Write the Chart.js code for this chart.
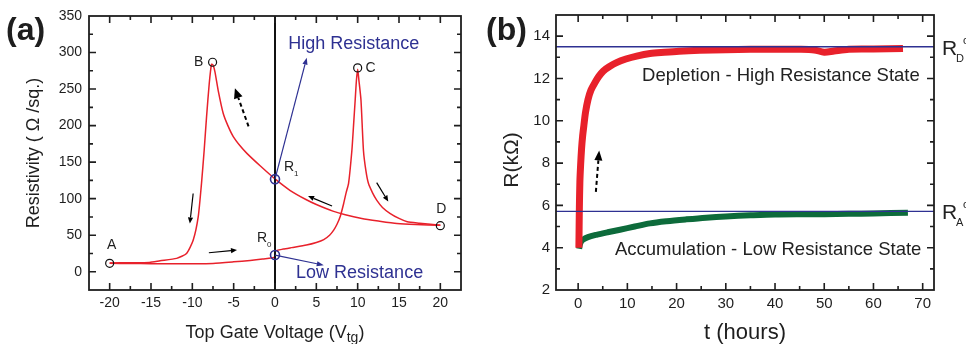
<!DOCTYPE html>
<html>
<head>
<meta charset="utf-8">
<script src="https://cdn.jsdelivr.net/npm/chart.js@4.4.1/dist/chart.umd.min.js"></script>
<style>
  html, body { margin: 0; padding: 0; background: #fff; }
  #wrap { position: relative; width: 966px; height: 344px; }
  canvas { position: absolute; top: 0; }
  #chartA { left: 0; }
  #chartB { left: 480px; }
</style>
</head>
<body>
<div id="wrap">
  <canvas id="chartA" width="480" height="344"></canvas>
  <canvas id="chartB" width="486" height="344"></canvas>
</div>
<script>
// ---------- panel (a): resistivity vs top gate voltage ----------
// forward sweep A -> R0 -> C -> D
const sweepUpV = [-20, -17.5, -15, -12.5, -10, -7.5, -5, -3, -1.5, 0, 0, 1, 2, 3.8, 5, 5.9, 6.6, 7.1, 7.5, 7.9, 8.3, 8.6, 8.9, 9.3, 9.5, 9.7, 9.85, 10.0, 10.15, 10.4, 10.7, 11.0, 11.3, 11.8, 12.3, 13.0, 13.9, 15.0, 16.0, 17.5, 18.8, 20];
const sweepUpR = [11.5, 11.3, 11, 11, 11, 11.4, 13.5, 15.5, 17.5, 20, 28, 31, 33, 36.5, 40, 44, 50, 57, 65, 76, 93, 108, 121, 166, 200, 235, 262, 277, 262, 235, 166, 138, 121, 108, 98, 88, 80, 73, 68.5, 66.5, 65, 63.5];
// return sweep D -> R1 -> B -> A
const sweepDownV = [20, 17, 14.75, 12.5, 10.5, 8.5, 7.0, 5.0, 3.8, 1.8, 0, -1.8, -3.4, -4.2, -5.05, -5.7, -6.26, -6.87, -7.27, -7.5, -7.68, -7.96, -8.28, -8.57, -8.89, -9.29, -9.9, -10.7, -11.9, -13.9, -15.2, -17.5, -20];
const sweepDownR = [63.5, 64.5, 66, 69.5, 73, 78, 83, 92, 98.5, 111.5, 127, 145, 162, 172, 185, 200, 216.6, 248, 274, 283, 284, 257, 212, 166, 121, 75, 43, 25, 18.3, 15, 12.8, 12.3, 12];

const pointV = [-20, -7.55, 10, 20];
const pointR = [11.5, 286.7, 279, 63];
const pointNames = ['A', 'B', 'C', 'D'];
const stateV = [0, 0];
const stateR = [126.7, 22.8];
const stateNames = ['1', '0'];

const aXTicks = [-20, -15, -10, -5, 0, 5, 10, 15, 20];
const aYTicks = [0, 50, 100, 150, 200, 250, 300, 350];

// ---------- panel (b): resistance vs time ----------
const depletionT = [0.15, 0.2, 0.25, 0.35, 0.5, 0.7, 0.9, 1.15, 1.5, 2.0, 2.6, 3.4, 4.2, 5.1, 6.3, 7.8, 9.7, 11.9, 14.6, 17.5, 20.5, 24.7, 30, 35, 40, 45, 48, 50, 52, 55, 60, 66];
const depletionR = [4.0, 5.0, 5.9, 7.1, 7.9, 8.7, 9.25, 9.75, 10.4, 11.0, 11.45, 11.8, 12.1, 12.35, 12.55, 12.75, 12.92, 13.06, 13.18, 13.24, 13.29, 13.33, 13.36, 13.38, 13.38, 13.38, 13.35, 13.24, 13.3, 13.38, 13.39, 13.42];
const accumT = [0.2, 0.3, 0.5, 1.0, 2.0, 3.7, 6.0, 8.5, 11.5, 14.6, 18, 22, 26, 30, 35, 40, 45, 50, 55, 60, 67];
const accumR = [3.95, 4.1, 4.25, 4.38, 4.5, 4.61, 4.73, 4.85, 5.0, 5.15, 5.25, 5.34, 5.42, 5.48, 5.53, 5.57, 5.58, 5.58, 5.6, 5.62, 5.65];
const levelR = [13.5, 5.72];
const levelNames = ['D', 'A'];

const bXTicks = [0, 10, 20, 30, 40, 50, 60, 70];
const bYTicks = [2, 4, 6, 8, 10, 12, 14];

// ---------- shared bits ----------
const FONT = "'Liberation Sans', Arial, sans-serif";
const RED = '#e8212b';
const BLUE = '#2e3192';
const INK = '#1e1e1e';

const A_X = [-22.5, 22.5];
const A_Y = [-25, 350];
const B_X = [-4.5, 72.3];
const B_Y = [2, 15];

function pts(xs, ys) {
  return xs.map((v, i) => ({ x: v, y: ys[i] }));
}

function arrow(ctx, x1, y1, x2, y2, opts) {
  const o = Object.assign({ color: '#000', width: 1.2, head: 6, headW: 4, dash: null }, opts);
  const ang = Math.atan2(y2 - y1, x2 - x1);
  const bx = x2 - Math.cos(ang) * o.head;
  const by = y2 - Math.sin(ang) * o.head;
  ctx.save();
  ctx.strokeStyle = o.color;
  ctx.fillStyle = o.color;
  ctx.lineWidth = o.width;
  if (o.dash) ctx.setLineDash(o.dash);
  ctx.beginPath();
  ctx.moveTo(x1, y1);
  ctx.lineTo(bx, by);
  ctx.stroke();
  ctx.setLineDash([]);
  ctx.beginPath();
  ctx.moveTo(x2, y2);
  ctx.lineTo(bx + Math.sin(ang) * o.headW, by - Math.cos(ang) * o.headW);
  ctx.lineTo(bx - Math.sin(ang) * o.headW, by + Math.cos(ang) * o.headW);
  ctx.closePath();
  ctx.fill();
  ctx.restore();
}

function strokeMarks(ctx, marks) {
  ctx.beginPath();
  marks.forEach(m => { ctx.moveTo(m[0], m[1]); ctx.lineTo(m[2], m[3]); });
  ctx.stroke();
}

// closed frame with inward major/minor ticks on all four sides
function drawFrame(chart, majorX, majorY, minorX, minorY) {
  const { ctx, chartArea: a, scales } = chart;
  const sx = scales.x;
  const sy = scales.y;
  ctx.save();
  ctx.setLineDash([]);
  ctx.strokeStyle = INK;
  ctx.lineWidth = 1.8;
  ctx.strokeRect(a.left, a.top, a.right - a.left, a.bottom - a.top);
  ctx.lineWidth = 1.6;

  const xMarks = [];
  for (let v = Math.ceil(sx.min / minorX) * minorX; v <= sx.max; v += minorX) {
    const val = Math.round(v * 1000) / 1000;
    const px = sx.getPixelForValue(val);
    if (px <= a.left + 2 || px >= a.right - 2) continue;
    const len = majorX.includes(val) ? 7 : 4;
    xMarks.push([px, a.bottom, px, a.bottom - len], [px, a.top, px, a.top + len]);
  }
  strokeMarks(ctx, xMarks);

  const yMarks = [];
  for (let v = Math.ceil(sy.min / minorY) * minorY; v <= sy.max; v += minorY) {
    const val = Math.round(v * 1000) / 1000;
    const py = sy.getPixelForValue(val);
    if (py <= a.top + 2 || py >= a.bottom - 2) continue;
    const len = majorY.includes(val) ? 7 : 4;
    yMarks.push([a.left, py, a.left + len, py], [a.right, py, a.right - len, py]);
  }
  strokeMarks(ctx, yMarks);
  ctx.restore();
}

// ---------- panel (a) ----------
const sweepArrows = [
  { from: [-9.9, 107], to: [-10.3, 66] },
  { from: [-8.0, 26], to: [-4.6, 29.7] },
  { from: [6.9, 90], to: [4.0, 103.5] },
  { from: [12.3, 122], to: [13.7, 96] }
];
const dashedArrowA = { from: [-3.2, 199], to: [-4.85, 251] };
const stateArrows = [
  { from: [0, 126.7], to: [3.84, 293] },
  { from: [0, 22.8], to: [5.9, 9] }
];

const frameA = {
  id: 'frameA',
  afterDraw(chart) { drawFrame(chart, aXTicks, aYTicks, 2.5, 25); }
};

const annotateA = {
  id: 'annotateA',
  afterDraw(chart) {
    const { ctx, chartArea: a, scales } = chart;
    const X = v => scales.x.getPixelForValue(v);
    const Y = v => scales.y.getPixelForValue(v);

    sweepArrows.forEach(s => arrow(ctx, X(s.from[0]), Y(s.from[1]), X(s.to[0]), Y(s.to[1]), { width: 1.2, head: 6, headW: 2.6 }));
    arrow(ctx, X(dashedArrowA.from[0]), Y(dashedArrowA.from[1]), X(dashedArrowA.to[0]), Y(dashedArrowA.to[1]),
      { width: 2, head: 10, headW: 4.5, dash: [4, 3] });
    stateArrows.forEach(s => arrow(ctx, X(s.from[0]), Y(s.from[1]), X(s.to[0]), Y(s.to[1]), { color: BLUE, width: 1.2, head: 7, headW: 2.6 }));

    ctx.save();
    ctx.fillStyle = INK;
    ctx.font = '14px ' + FONT;
    ctx.textAlign = 'center';
    ctx.textBaseline = 'middle';
    const offs = { A: [2, -18], B: [-14, 0], C: [13, 0], D: [1, -17] };
    pointNames.forEach((n, i) => {
      ctx.fillText(n, X(pointV[i]) + offs[n][0], Y(pointR[i]) + offs[n][1]);
    });
    // R1 / R0 labels with subscripts
    const rOffs = [[14, -12], [-13, -17]];
    stateNames.forEach((n, i) => {
      const cx = X(stateV[i]) + rOffs[i][0];
      const cy = Y(stateR[i]) + rOffs[i][1];
      ctx.font = '14px ' + FONT;
      ctx.textAlign = 'center';
      ctx.fillText('R', cx, cy);
      ctx.font = '8px ' + FONT;
      ctx.textAlign = 'left';
      ctx.fillText(n, cx + 5, cy + 7);
    });

    ctx.fillStyle = BLUE;
    ctx.font = '18px ' + FONT;
    ctx.textAlign = 'left';
    ctx.fillText('High Resistance', X(1.6), Y(312));
    ctx.fillText('Low Resistance', X(2.55), Y(-2));

    // x axis title with subscript
    ctx.fillStyle = INK;
    ctx.textBaseline = 'alphabetic';
    const main = 'Top Gate Voltage (V';
    ctx.font = '18px ' + FONT;
    const w1 = ctx.measureText(main).width;
    ctx.font = '14px ' + FONT;
    const w2 = ctx.measureText('tg').width;
    ctx.font = '18px ' + FONT;
    const w3 = ctx.measureText(')').width;
    const tx = (a.left + a.right) / 2 - (w1 + w2 + w3) / 2;
    const ty = 338;
    ctx.fillText(main, tx, ty);
    ctx.font = '14px ' + FONT;
    ctx.fillText('tg', tx + w1, ty + 4);
    ctx.font = '18px ' + FONT;
    ctx.fillText(')', tx + w1 + w2, ty);

    ctx.font = 'bold 32px ' + FONT;
    ctx.textAlign = 'left';
    ctx.textBaseline = 'middle';
    ctx.fillText('(a)', 6, 31);
    ctx.restore();
  }
};

new Chart(document.getElementById('chartA'), {
  type: 'scatter',
  data: {
    datasets: [
      {
        data: pts(stateV, stateR), pointRadius: 4.5, pointBorderWidth: 1.6,
        pointBorderColor: BLUE, pointBackgroundColor: 'rgba(0,0,0,0)', showLine: false, order: 0
      },
      {
        data: pts(pointV, pointR), pointRadius: 4, pointBorderWidth: 1.2,
        pointBorderColor: '#111', pointBackgroundColor: 'rgba(0,0,0,0)', showLine: false, order: 1
      },
      {
        data: pts([0, 0], A_Y), showLine: true, borderColor: '#111', borderWidth: 2,
        pointRadius: 0, order: 2
      },
      {
        data: pts(sweepUpV, sweepUpR), showLine: true, borderColor: RED, borderWidth: 1.5,
        pointRadius: 0, tension: 0.2, order: 3
      },
      {
        data: pts(sweepDownV, sweepDownR), showLine: true, borderColor: RED, borderWidth: 1.5,
        pointRadius: 0, tension: 0.2, order: 3
      }
    ]
  },
  options: {
    responsive: false,
    animation: false,
    layout: { padding: { top: 16, right: 19, left: 0, bottom: 0 } },
    plugins: { legend: { display: false }, tooltip: { enabled: false } },
    scales: {
      x: {
        type: 'linear', min: A_X[0], max: A_X[1],
        afterBuildTicks: s => { s.ticks = aXTicks.map(v => ({ value: v })); },
        afterFit: s => { s.height = 54; },
        grid: { display: false, drawTicks: false },
        border: { display: false },
        ticks: { padding: 5, color: INK, font: { family: FONT, size: 14 } }
      },
      y: {
        type: 'linear', min: A_Y[0], max: A_Y[1],
        afterBuildTicks: s => { s.ticks = aYTicks.map(v => ({ value: v })); },
        afterFit: s => { s.width = 89; },
        grid: { display: false, drawTicks: false },
        border: { display: false },
        ticks: { padding: 7, color: INK, font: { family: FONT, size: 14 } },
        title: {
          display: true, text: 'Resistivity ( Ω /sq.)', color: INK,
          font: { family: FONT, size: 18 }, padding: { top: 23, bottom: 0 }
        }
      }
    }
  },
  plugins: [frameA, annotateA]
});

// ---------- panel (b) ----------
const dashedArrowB = { from: [3.6, 6.64], to: [4.27, 8.6] };

const frameB = {
  id: 'frameB',
  afterDraw(chart) { drawFrame(chart, bXTicks, bYTicks, 5, 1); }
};

const annotateB = {
  id: 'annotateB',
  afterDraw(chart) {
    const { ctx, chartArea: a, scales } = chart;
    const X = v => scales.x.getPixelForValue(v);
    const Y = v => scales.y.getPixelForValue(v);

    arrow(ctx, X(dashedArrowB.from[0]), Y(dashedArrowB.from[1]), X(dashedArrowB.to[0]), Y(dashedArrowB.to[1]),
      { width: 2, head: 10, headW: 4, dash: [4, 3] });

    ctx.save();
    ctx.fillStyle = '#222';
    ctx.font = '18.5px ' + FONT;
    ctx.textAlign = 'center';
    ctx.textBaseline = 'middle';
    ctx.fillText('Depletion - High Resistance State', X(41.2), Y(12.14));
    ctx.fillText('Accumulation - Low Resistance State', X(38.6), Y(3.91));

    // R_D^c, R_A^c labels outside the frame
    ctx.textAlign = 'left';
    ctx.textBaseline = 'alphabetic';
    levelR.forEach((r, i) => {
      const py = Y(r);
      const px = a.right + 8;
      ctx.font = '21px ' + FONT;
      ctx.fillText('R', px, py + 8);
      ctx.font = '11px ' + FONT;
      ctx.fillText(levelNames[i], px + 14, py + 15);
      ctx.fillText('c', px + 21, py - 3);
    });

    // y axis title
    ctx.font = '21px ' + FONT;
    ctx.textAlign = 'center';
    ctx.textBaseline = 'middle';
    ctx.translate(32, 160);
    ctx.rotate(-Math.PI / 2);
    ctx.fillText('R(kΩ)', 0, 0);
    ctx.setTransform(1, 0, 0, 1, 0, 0);

    ctx.fillStyle = INK;
    ctx.font = 'bold 32px ' + FONT;
    ctx.textAlign = 'left';
    ctx.fillText('(b)', 6, 31);
    ctx.restore();
  }
};

new Chart(document.getElementById('chartB'), {
  type: 'scatter',
  data: {
    datasets: [
      {
        data: pts(B_X, [levelR[0], levelR[0]]), showLine: true, borderColor: BLUE, borderWidth: 1.3,
        pointRadius: 0, order: 0
      },
      {
        data: pts(B_X, [levelR[1], levelR[1]]), showLine: true, borderColor: BLUE, borderWidth: 1.3,
        pointRadius: 0, order: 0
      },
      {
        data: pts(depletionT, depletionR), showLine: true, borderColor: RED, borderWidth: 7,
        pointRadius: 0, tension: 0.3, order: 1
      },
      {
        data: pts(accumT, accumR), showLine: true, borderColor: '#0d6b3b', borderWidth: 6,
        pointRadius: 0, tension: 0.3, order: 1
      }
    ]
  },
  options: {
    responsive: false,
    animation: false,
    layout: { padding: { top: 12, right: 32, left: 0, bottom: 0 } },
    plugins: { legend: { display: false }, tooltip: { enabled: false } },
    scales: {
      x: {
        type: 'linear', min: B_X[0], max: B_X[1],
        afterBuildTicks: s => { s.ticks = bXTicks.map(v => ({ value: v })); },
        afterFit: s => { s.height = 54; },
        grid: { display: false, drawTicks: false },
        border: { display: false },
        ticks: { padding: 5, color: INK, font: { family: FONT, size: 15 } },
        title: {
          display: true, text: 't (hours)', color: INK,
          font: { family: FONT, size: 22, lineHeight: 1 }, padding: { top: 0, bottom: 0 }
        }
      },
      y: {
        type: 'linear', min: B_Y[0], max: B_Y[1],
        afterBuildTicks: s => { s.ticks = bYTicks.map(v => ({ value: v })); },
        afterFit: s => { s.width = 76; },
        grid: { display: false, drawTicks: false },
        border: { display: false },
        ticks: { padding: 6, color: INK, font: { family: FONT, size: 15 } }
      }
    }
  },
  plugins: [frameB, annotateB]
});
</script>
</body>
</html>
